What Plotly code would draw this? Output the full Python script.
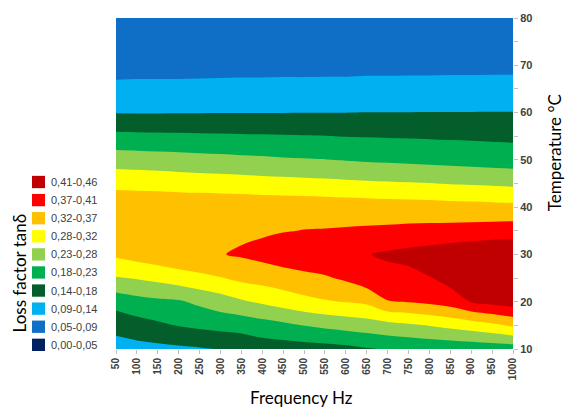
import plotly.graph_objects as go

# Frequency sweep (Hz) and temperature steps (°C) of the measurement grid
frequency_hz = [50, 100, 150, 200, 250, 300, 350, 400, 450, 500,
                550, 600, 650, 700, 750, 800, 850, 900, 950, 1000]
temperature_c = [10, 15, 20, 25, 30, 35, 40, 45, 50, 55, 60, 65, 70, 75, 80]

# Loss factor tan(delta), one row per temperature, one column per frequency
loss_10 = [0.119, 0.122, 0.126, 0.130, 0.134, 0.140, 0.152, 0.160, 0.162, 0.164,
           0.167, 0.172, 0.180, 0.188, 0.192, 0.195, 0.197, 0.199, 0.202, 0.205]
loss_15 = [0.153, 0.166, 0.176, 0.186, 0.193, 0.199, 0.201, 0.211, 0.220, 0.231,
           0.240, 0.247, 0.254, 0.261, 0.269, 0.278, 0.288, 0.299, 0.312, 0.329]
loss_20 = [0.202, 0.214, 0.221, 0.225, 0.239, 0.254, 0.270, 0.283, 0.296, 0.309,
           0.318, 0.324, 0.331, 0.366, 0.370, 0.378, 0.390, 0.416, 0.428, 0.438]
loss_25 = [0.273, 0.279, 0.288, 0.299, 0.310, 0.320, 0.333, 0.340, 0.348, 0.356,
           0.363, 0.375, 0.396, 0.398, 0.400, 0.412, 0.431, 0.440, 0.448, 0.452]
loss_30 = [0.330, 0.341, 0.351, 0.360, 0.364, 0.366, 0.373, 0.382, 0.392, 0.398,
           0.403, 0.408, 0.412, 0.421, 0.428, 0.434, 0.443, 0.451, 0.457, 0.455]
loss_35 = [0.355, 0.357, 0.358, 0.360, 0.360, 0.359, 0.360, 0.362, 0.366, 0.369,
           0.370, 0.372, 0.374, 0.376, 0.379, 0.381, 0.383, 0.385, 0.388, 0.391]
loss_40 = [0.353, 0.354, 0.355, 0.355, 0.354, 0.354, 0.353, 0.352, 0.351, 0.350,
           0.349, 0.347, 0.346, 0.344, 0.343, 0.341, 0.339, 0.338, 0.336, 0.334]
loss_45 = [0.310, 0.308, 0.306, 0.303, 0.301, 0.299, 0.297, 0.294, 0.292, 0.290,
           0.288, 0.285, 0.283, 0.281, 0.279, 0.277, 0.274, 0.272, 0.270, 0.267]
loss_50 = [0.255, 0.253, 0.250, 0.248, 0.245, 0.243, 0.240, 0.238, 0.235, 0.233,
           0.231, 0.228, 0.225, 0.223, 0.220, 0.218, 0.215, 0.213, 0.210, 0.208]
loss_55 = [0.195, 0.194, 0.193, 0.192, 0.191, 0.190, 0.189, 0.188, 0.187, 0.186,
           0.185, 0.183, 0.182, 0.181, 0.180, 0.179, 0.178, 0.177, 0.176, 0.175]
loss_60 = [0.136, 0.136, 0.136, 0.1365, 0.1365, 0.137, 0.137, 0.137, 0.1373, 0.1374,
           0.1376, 0.1378, 0.1383, 0.1384, 0.1385, 0.1386, 0.1387, 0.1388, 0.1389, 0.139]
loss_65 = [0.101, 0.102, 0.102, 0.102, 0.103, 0.103, 0.104, 0.104, 0.105, 0.105,
           0.106, 0.106, 0.107, 0.107, 0.108, 0.108, 0.109, 0.109, 0.110, 0.110]
loss_70 = [0.078, 0.078, 0.078, 0.078, 0.078, 0.079, 0.079, 0.079, 0.079, 0.079,
           0.079, 0.079, 0.080, 0.080, 0.080, 0.080, 0.080, 0.080, 0.080, 0.080]
loss_75 = [0.068, 0.068, 0.068, 0.068, 0.068, 0.068, 0.069, 0.069, 0.069, 0.069,
           0.069, 0.069, 0.069, 0.070, 0.070, 0.070, 0.070, 0.070, 0.070, 0.070]
loss_80 = [0.060, 0.060, 0.060, 0.060, 0.060, 0.061, 0.061, 0.061, 0.061, 0.061,
           0.061, 0.061, 0.062, 0.062, 0.062, 0.062, 0.062, 0.062, 0.062, 0.062]

loss_factor = [loss_10, loss_15, loss_20, loss_25, loss_30, loss_35, loss_40, loss_45,
               loss_50, loss_55, loss_60, loss_65, loss_70, loss_75, loss_80]

# Contour classes (lowest first) and their colours
band_labels = ["0,00-0,05", "0,05-0,09", "0,09-0,14", "0,14-0,18", "0,18-0,23",
               "0,23-0,28", "0,28-0,32", "0,32-0,37", "0,37-0,41", "0,41-0,46"]
band_colors = ["#002060", "#0F6FC6", "#00B0F0", "#035E2C", "#00B050",
               "#92D050", "#FFFF00", "#FFC000", "#FF0000", "#C00000"]
band_min, band_max = 0.0, 0.46

# Layout geometry (pixels)
W, H = 566, 410
PL, PR, PT, PB = 116, 513, 16, 349

n = len(band_colors)
step = (band_max - band_min) / n

# stepwise colourscale: each class holds one flat colour
colorscale = []
for k, c in enumerate(band_colors):
    lo = max(0.0, (k - 0.5) / (n - 1))
    hi = min(1.0, (k + 0.5) / (n - 1))
    colorscale.append([lo, c])
    colorscale.append([hi, c])

fig = go.Figure()
fig.add_trace(go.Contour(
    x=frequency_hz,
    y=temperature_c,
    z=loss_factor,
    colorscale=colorscale,
    zmin=band_min,
    zmax=band_max,
    contours=dict(start=band_min + step, end=band_max - step, size=step,
                  coloring="fill", showlines=False),
    line=dict(width=0),
    showscale=False,
    hoverinfo="skip",
))


def px_x(px):
    return (px - PL) / (PR - PL)


def px_y(py):
    return (PB - py) / (PB - PT)


text_font = "Liberation Sans, Arial, sans-serif"
title_font = "Lato, Open Sans, sans-serif"
tick_color = "#404040"

shapes = []
annotations = []

# Class key on the left, highest class on top
for row, k in enumerate(reversed(range(n))):
    cy = 181 + 18.2 * row
    shapes.append(dict(type="rect", xref="paper", yref="paper",
                       x0=px_x(32), x1=px_x(45), y0=px_y(cy + 6.2), y1=px_y(cy - 6.2),
                       fillcolor=band_colors[k], line=dict(width=0)))
    annotations.append(dict(x=px_x(49), y=px_y(cy), xref="paper", yref="paper",
                            text=band_labels[k], showarrow=False,
                            xanchor="left", yanchor="middle",
                            font=dict(family=text_font, size=11, color=tick_color)))

annotations.append(dict(x=px_x(19), y=px_y(273), xref="paper", yref="paper",
                        text="Loss factor tanδ", textangle=-90, showarrow=False,
                        xanchor="center", yanchor="middle",
                        font=dict(family=title_font, size=17, color="#000000")))
annotations.append(dict(x=px_x(301), y=px_y(398), xref="paper", yref="paper",
                        text="Frequency Hz", showarrow=False,
                        xanchor="center", yanchor="middle",
                        font=dict(family=title_font, size=17, color="#000000")))
annotations.append(dict(x=px_x(554), y=px_y(152), xref="paper", yref="paper",
                        text="Temperature °C", textangle=-90, showarrow=False,
                        xanchor="center", yanchor="middle",
                        font=dict(family=title_font, size=17, color="#000000")))

fig.update_layout(
    width=W, height=H,
    autosize=False,
    margin=dict(l=PL, r=W - PR, t=PT, b=H - PB, pad=0),
    paper_bgcolor="white",
    plot_bgcolor="white",
    showlegend=False,
    shapes=shapes,
    annotations=annotations,
    xaxis=dict(
        range=[frequency_hz[0], frequency_hz[-1]],
        tickvals=frequency_hz,
        ticktext=[str(f) for f in frequency_hz],
        tickangle=-90,
        ticks="outside", ticklen=4, tickcolor="#BFBFBF",
        tickfont=dict(family=text_font, size=10, color=tick_color, weight="bold"),
        showgrid=False, zeroline=False, showline=False,
    ),
    yaxis=dict(
        side="right",
        range=[temperature_c[0], temperature_c[-1]],
        tickvals=list(range(10, 81, 10)),
        ticks="outside", ticklen=4, tickcolor="#BFBFBF",
        minor=dict(ticks="outside", ticklen=4, dtick=5, tickcolor="#BFBFBF"),
        tickfont=dict(family=text_font, size=11, color=tick_color, weight="bold"),
        showgrid=False, zeroline=False, showline=False,
    ),
)

fig.write_html("out.html")
